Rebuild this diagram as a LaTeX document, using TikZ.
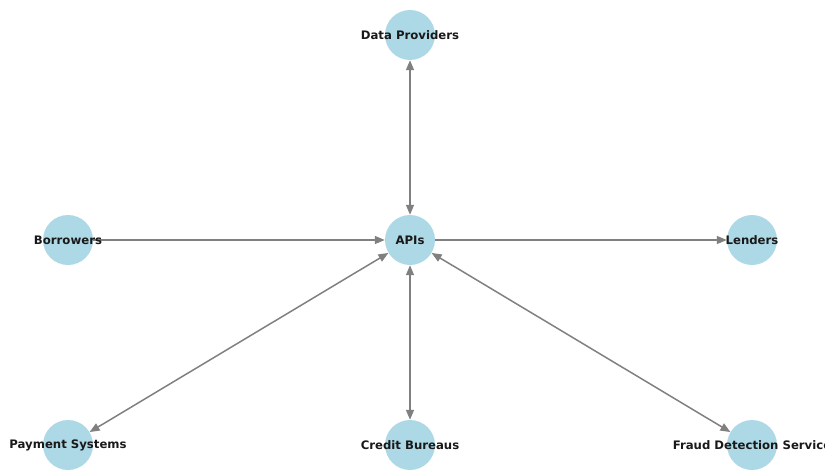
\documentclass[tikz,border=0pt]{standalone}
\usepackage{fontspec}
\setmainfont{DejaVu Sans}
\usetikzlibrary{arrows.meta}
\definecolor{nodeblue}{RGB}{173,216,230}
\definecolor{edgegray}{RGB}{128,128,128}
\tikzset{
  hub/.style={circle, fill=nodeblue, draw=none, minimum size=50pt, inner sep=0pt},
  hublabel/.style={font=\bfseries\fontsize{11.7}{13}\selectfont, text=black!90, inner sep=0pt},
  link/.style={draw=edgegray, line width=1.5pt, -{Stealth[length=10pt,width=8pt,inset=0pt]}},
  biLink/.style={draw=edgegray, line width=1.5pt, {Stealth[length=10pt,width=8pt,inset=0pt]}-{Stealth[length=10pt,width=8pt,inset=0pt]}}
}
\begin{document}
\begin{tikzpicture}[x=1pt,y=-1pt]
\useasboundingbox (0,0) rectangle (825,471);
\clip (0,0) rectangle (825,471);
% circles
\node[hub] (dp) at (410,35) {};
\node[hub] (bo) at (68,240) {};
\node[hub] (api) at (410,240) {};
\node[hub] (le) at (752,240) {};
\node[hub] (ps) at (68,445) {};
\node[hub] (cb) at (410,445) {};
\node[hub] (fd) at (752,445) {};
% connectors
\draw[biLink] (dp) -- (api);
\draw[link] (bo) -- (api);
\draw[link] (api) -- (le);
\draw[biLink] (ps) -- (api);
\draw[biLink] (cb) -- (api);
\draw[biLink] (fd) -- (api);
% labels
\node[hublabel] (tdp) at (dp) {Data Providers};
\node[hublabel] (tbo) at (bo) {Borrowers};
\node[hublabel] (tapi) at (api) {APIs};
\node[hublabel] (tle) at (le) {Lenders};
\node[hublabel] (tps) at (ps) {Payment Systems};
\node[hublabel] (tcb) at (cb) {Credit Bureaus};
\node[hublabel] (tfd) at (fd) {Fraud Detection Service};
\end{tikzpicture}
\end{document}
